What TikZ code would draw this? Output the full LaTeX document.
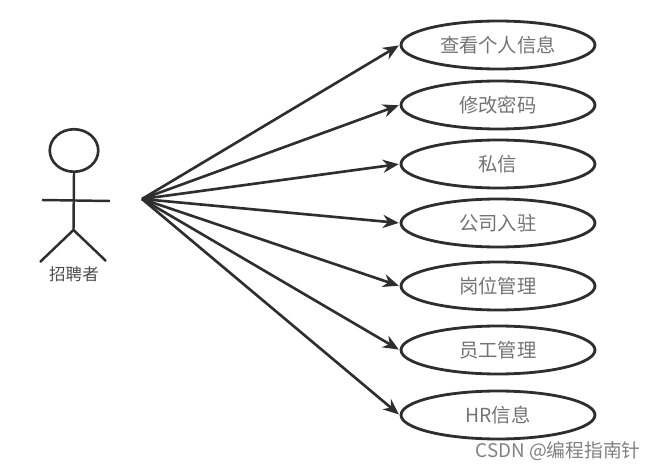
\documentclass[tikz,border=0pt]{standalone}
\usepackage{fontspec}
\usepackage{amsmath}
\usetikzlibrary{arrows.meta,shapes.geometric}
\setmainfont{Liberation Serif}
\newfontfamily\cjk{Noto Sans CJK SC}
\tikzset{
    usecase/.style={draw=black!82,line width=1.6pt,ellipse,minimum width=3.88cm,minimum height=0.96cm,inner sep=0pt,text=black!55,font=\cjk\fontsize{11}{13}\selectfont},
    assoc/.style={draw=black!82,line width=1.5pt,-{Stealth[length=9pt,width=7.5pt]},shorten >=0.5pt},
    limb/.style={draw=black!82,line width=1.4pt},
}
\begin{document}
\begin{tikzpicture}[x=0.02cm,y=-0.02cm]
            \useasboundingbox (0,0) rectangle (654,470);

            \begin{scope}
                \coordinate (hip) at (73.5,230);
                \coordinate (armL) at (42,200);
                \coordinate (armR) at (110,201);
                \coordinate (footL) at (40,262);
                \coordinate (footR) at (106,261);
                \coordinate (hub) at (142,199);

                \node[draw=black!82,line width=1.5pt,ellipse,minimum width=0.97cm,minimum height=0.85cm,inner sep=0pt] (head) at (74,150.5) {};
                \draw[limb] (head.south)--(hip);
                \draw[limb] (armL)--(armR);
                \draw[limb] (footL)--(hip)--(footR);
                \node[text=black!70,font=\cjk\fontsize{9.4}{11}\selectfont] (actor) at (74,274) {招聘者};
            \end{scope}

            \node[usecase] (info) at (498,45) {查看个人信息};
            \node[usecase] (pwd) at (498,105) {修改密码};
            \node[usecase] (msg) at (498,164) {私信};
            \node[usecase] (firm) at (498,223) {公司入驻};
            \node[usecase] (post) at (498,286) {岗位管理};
            \node[usecase] (staff) at (498,350) {员工管理};
            \node[usecase] (hr) at (498,415) {HR信息};

            \foreach \p in {info,pwd,msg,firm,post,staff,hr}{
                \draw[assoc] (hub)--(\p.west);
            }

            \node[text=black!50,font=\cjk\fontsize{10.7}{13}\selectfont,anchor=east] (mark) at (647,451) {CSDN @编程指南针};
\end{tikzpicture}
\end{document}
